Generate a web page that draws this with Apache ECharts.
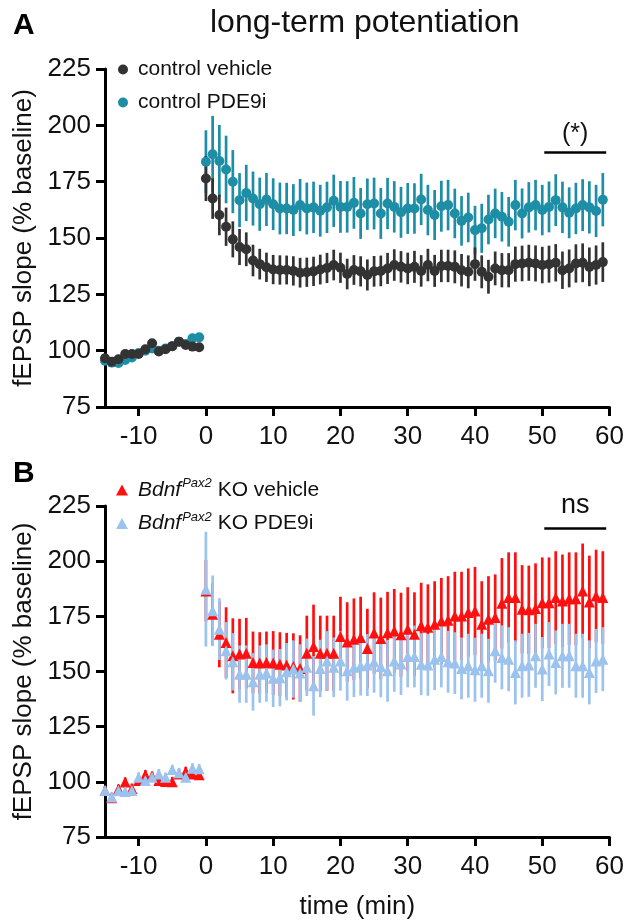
<!DOCTYPE html>
<html><head><meta charset="utf-8">
<script src="https://cdn.jsdelivr.net/npm/echarts@6/dist/echarts.min.js"></script>
<style>html,body{margin:0;padding:0;background:#fff}#c{width:627px;height:921px}</style>
</head><body><div id="c"></div>
<script>
const minutes = [-15,-14,-13,-12,-11,-10,-9,-8,-7,-6,-5,-4,-3,-2,-1,
  0,1,2,3,4,5,6,7,8,9,10,11,12,13,14,15,16,17,18,19,20,21,22,23,24,25,26,27,28,29,
  30,31,32,33,34,35,36,37,38,39,40,41,42,43,44,45,46,47,48,49,50,51,52,53,54,55,56,57,58,59];
const xTickLabels = [-10,0,10,20,30,40,50,60];

// Panel A: control vehicle
const ctrlVehMean = [96.6,95.1,96.2,98.5,98.5,98.5,100.6,103.3,99.6,100.6,102,104,102.5,101.8,101.5,
  176.4,167.5,160.2,155,149.4,146,145,140,138.4,137,
  136,135.8,135.8,135.4,134.6,134.8,135.2,136,136.7,138,
  136.8,134,135.8,135.2,133.6,135.2,135.4,136.5,138,137.2,
  136.5,137.2,135.4,138,135.4,137.6,137.6,137.2,135.7,135,
  138.4,135,132.8,136.5,135.7,135.7,138.4,138.7,139,138.7,
  138,138.4,139,135.7,136.5,138.7,139,137.2,138,139.3];
const ctrlVehSem = [1.5,1.5,1.4,1.6,1.5,1.5,1.6,1.7,1.5,1.6,1.5,1.7,1.6,1.5,1.6,
  10,9,9,8.5,8,8,7.5,7,6.8,6.5,
  6.5,6.5,6.4,6.5,6.6,6.5,6.5,6.6,6.7,6.8,
  6.7,6.8,6.6,6.7,6.9,6.8,6.8,6.9,7,7,
  7,7.1,7,7.2,7.1,7.2,7.2,7.3,7.2,7.3,
  7.4,7.3,7.5,7.5,7.6,7.6,7.8,7.9,8,8,
  8.1,8.2,8.3,8.3,8.4,8.5,8.6,8.6,8.7,8.8];
// Panel A: control PDE9i
const ctrlPdeMean = [95.5,94.7,94.5,95.9,97,99,100,101,100,101,102,104,103,105.5,105.9,
  183.8,187.2,184.2,180.4,175,166.8,170,167.5,165,167.1,
  165,163.1,163.1,162.4,164.6,163.1,163.6,162.1,163.6,166.5,
  163.8,163.8,165.6,160.9,165,165.3,160.9,165.3,163.8,161.4,
  163.1,163.1,167.1,162.4,160.2,164.1,164.6,160.9,157.6,159.1,
  153.5,154.3,158.2,160.9,159.4,157.2,164.6,160.9,163.6,164.6,
  162.4,163.8,166.8,163.6,161.2,163.1,164.6,163.6,162,167];
const ctrlPdeSem = [1.5,1.6,1.5,1.6,1.7,1.6,1.5,1.7,1.6,1.6,1.7,1.6,1.7,1.8,1.8,
  14,17,16,15,14,12,12.5,12,11.8,11.8,
  11.5,11.5,11.4,11.5,11.6,11.5,11.4,11.5,11.4,11.6,
  11.5,11.4,11.5,11.3,11.4,11.5,11.3,11.4,11.4,11.3,
  11.3,11.2,11.4,11.2,11.1,11.3,11.2,11,11,11,
  10.8,10.9,11,11,11,11,11.2,11.1,11.2,11.2,
  11.2,11.3,11.5,11.4,11.3,11.4,11.5,11.6,11.6,11.8];
// Panel B: Bdnf Pax2 KO vehicle
const koVehMean = [96.1,92.8,96.8,99.9,97,100.6,103.2,102.6,100.6,100.2,100,103.6,104.7,103.6,103.2,
  186.5,176,166.9,163.1,157.1,157.9,158.3,154.1,153.8,154.1,
  153.8,153.3,153,152.3,151.4,158.3,161.3,158.3,158.3,158.3,
  165.9,163.4,164.6,165.4,160.4,167.4,165,167.6,168.4,166.7,
  169.2,166.9,170.7,170,171.4,172.9,173.2,175.2,175.2,176.7,
  177.4,171.4,173.7,174.5,180.9,183.5,183.5,178.2,178,178.5,
  181.2,181.2,183.5,182,183,183,186.5,181.5,184.2,183.5];
const koVehSem = [2,2.2,2,2.1,2.2,2,2.1,2,2.1,2,2.2,2,2.1,2,2.1,
  14,14,15,16,17,16,16,14,14,14,
  14.5,14.5,14.5,15,15,17,19,17,17,17,
  18,18,18.5,18.5,18,18.5,18.5,18.5,19,19,
  19,19,19.5,19.5,19.5,19.5,20,20,20,20,
  20,19.5,19.5,19.5,20.5,20.5,20.5,20,20,20.5,
  20.5,20.5,21,21,21,21,21.5,21,21,21];
// Panel B: Bdnf Pax2 KO PDE9i
const koPdeMean = [96.1,93.1,96,95.6,96.1,102.1,100.6,102.1,103.6,102.1,105.6,104.1,102.1,106.2,105.9,
  187.3,177.5,169.2,159.4,154.4,148.8,148.8,145.3,148.8,149.3,
  146.9,147.2,149.9,151.1,149.3,151.9,143.5,151.4,154.8,151.9,
  154.8,150.3,151.9,152.6,152.9,154.4,152.3,150.3,154.8,153.4,
  156.8,156.8,153.3,153,155.6,156.8,154.4,153.8,151.4,152.6,
  150.8,152.6,150.3,159.4,156.4,155.6,149.6,152.6,153,157.1,
  151.1,157.9,154.1,157.1,157.1,152.6,152.6,149.6,154.8,155.6];
const koPdeSem = [2,2.1,2,2.1,2,2.2,2,2.1,2.2,2,2.1,2.2,2,2.2,2.1,
  26,16,14,13,13,13,13,13,13,13,
  13,13,13,13,13,13,13.5,13,13.5,13.5,
  13.5,13.5,13.5,13.5,14,14,14,14,14,14,
  14,14,14,14,14,14,14,14,14,14.5,
  14.5,14.5,14.5,14.5,14.5,14.5,14.5,14.5,14.5,14.5,
  14.5,14.5,14.5,14.5,14.5,14.5,14.5,14.5,14.5,14.5];

const FONT = 'Liberation Sans, Arial, sans-serif';
const cDark = '#333333', cTeal = '#1e8ea6', cRed = '#ff1010', cBlue = '#9cc2ee';

function pts(mean){ return minutes.map((t,i)=>[t, mean[i]]); }
function errs(mean, sem){ return minutes.map((t,i)=>[t, mean[i], sem[i]]); }
function errRender(params, api){
  const x = api.value(0), m = api.value(1), s = api.value(2);
  const a = api.coord([x, m + s]), b = api.coord([x, m - s]);
  return {type:'line', shape:{x1:a[0], y1:a[1], x2:b[0], y2:b[1]},
    style:{stroke: api.visual('color'), lineWidth: 2.7, opacity: api.visual('opacity')}};
}
function errSeries(name, mean, sem, color, idx, opacity){
  return {type:'custom', name: name, xAxisIndex: idx, yAxisIndex: idx, renderItem: errRender,
    itemStyle:{color: color, opacity: opacity || 1}, encode:{x:0, y:[1]}, data: errs(mean, sem), silent:true, z:2};
}
function xAxis(idx, withName){
  return {type:'value', gridIndex: idx, min:-15, max:60,
    axisLine:{onZero:false, lineStyle:{color:'#000', width:3}},
    axisTick:{customValues: xTickLabels, length:9, lineStyle:{color:'#000', width:3}},
    axisLabel:{customValues: xTickLabels, color:'#111', fontSize:26, fontFamily:FONT, margin:17},
    splitLine:{show:false},
    name: withName ? 'time (min)' : '', nameLocation:'middle', nameGap:57,
    nameTextStyle:{color:'#111', fontSize:26, fontFamily:FONT}};
}
function yAxis(idx){
  return {type:'value', gridIndex: idx, min:75, max:225, interval:25,
    axisLine:{show:true, onZero:false, lineStyle:{color:'#000', width:3}},
    axisTick:{show:true, length:9, lineStyle:{color:'#000', width:3}},
    axisLabel:{color:'#111', fontSize:26, fontFamily:FONT, margin:14},
    splitLine:{show:false},
    name:'fEPSP slope (% baseline)', nameLocation:'middle', nameGap:64,
    nameTextStyle:{color:'#111', fontSize:26, fontFamily:FONT}};
}
const legendRich = {
  i:{fontStyle:'italic', fontSize:21, fontFamily:FONT, color:'#111', lineHeight:26},
  s:{fontStyle:'italic', fontSize:13, fontFamily:FONT, color:'#111', verticalAlign:'top', lineHeight:26, padding:[0,0,10,1]},
  n:{fontSize:21, fontFamily:FONT, color:'#111', lineHeight:26}
};

const option = {
  animation:false,
  backgroundColor:'#fff',
  title:[
    {text:'A', left:8, top:6, textStyle:{fontSize:30, fontWeight:'bold', fontFamily:FONT, color:'#000'}},
    {text:'long-term potentiation', left:205, top:2, textStyle:{fontSize:32, fontWeight:'normal', fontFamily:FONT, color:'#111'}},
    {text:'B', left:8, top:454, textStyle:{fontSize:30, fontWeight:'bold', fontFamily:FONT, color:'#000'}}
  ],
  legend:[
    {orient:'vertical', left:113, top:52, itemWidth:10, itemHeight:10, itemGap:8,
      data:[{name:'control vehicle', icon:'circle'}, {name:'control PDE9i', icon:'circle'}],
      textStyle:{fontSize:21, fontFamily:FONT, color:'#111', lineHeight:25, padding:[0,0,0,5]}},
    {orient:'vertical', left:111, top:472, itemWidth:12, itemHeight:11, itemGap:10,
      data:[{name:'Bdnf Pax2 KO vehicle', icon:'triangle'}, {name:'Bdnf Pax2 KO PDE9i', icon:'triangle'}],
      formatter: function(name){ return '{i|Bdnf}{s|Pax2}{n| ' + name.replace('Bdnf Pax2 ','') + '}'; },
      textStyle:{fontSize:21, fontFamily:FONT, color:'#111', rich: legendRich, padding:[0,0,0,5]}}
  ],
  grid:[
    {left:105, right:15, top:69, height:338},
    {left:105, right:15, top:506, height:332}
  ],
  xAxis:[xAxis(0,false), xAxis(1,true)],
  yAxis:[yAxis(0), yAxis(1)],
  series:[
    errSeries('err PDE9i', ctrlPdeMean, ctrlPdeSem, cTeal, 0),
    errSeries('err vehicle', ctrlVehMean, ctrlVehSem, cDark, 0),
    {type:'scatter', name:'control PDE9i', xAxisIndex:0, yAxisIndex:0, symbol:'circle', symbolSize:10,
      itemStyle:{color:cTeal, opacity:1}, data: pts(ctrlPdeMean), z:3,
      markLine:{silent:true, symbol:'none', lineStyle:{color:'#000', width:2.5, type:'solid'},
        label:{show:true, position:'middle', formatter:'(*)', fontSize:25, fontFamily:FONT, color:'#111', distance:6},
        data:[[{coord:[50.3,188]},{coord:[59.5,188]}]]}},
    {type:'scatter', name:'control vehicle', xAxisIndex:0, yAxisIndex:0, symbol:'circle', symbolSize:10,
      itemStyle:{color:cDark, opacity:1}, data: pts(ctrlVehMean), z:4},
    errSeries('err KO vehicle', koVehMean, koVehSem, cRed, 1),
    errSeries('err KO PDE9i', koPdeMean, koPdeSem, cBlue, 1, 0.85),
    {type:'scatter', name:'Bdnf Pax2 KO vehicle', xAxisIndex:1, yAxisIndex:1, symbol:'triangle', symbolSize:11,
      itemStyle:{color:cRed, opacity:1}, data: pts(koVehMean), z:3,
      markLine:{silent:true, symbol:'none', lineStyle:{color:'#000', width:2.5, type:'solid'},
        label:{show:true, position:'middle', formatter:'ns', fontSize:27, fontFamily:FONT, color:'#111', distance:9},
        data:[[{coord:[50.3,215]},{coord:[59.5,215]}]]}},
    {type:'scatter', name:'Bdnf Pax2 KO PDE9i', xAxisIndex:1, yAxisIndex:1, symbol:'triangle', symbolSize:11,
      itemStyle:{color:cBlue, opacity:1}, data: pts(koPdeMean), z:4}
  ]
};
const chart = echarts.init(document.getElementById('c'), null, {renderer:'canvas'});
chart.setOption(option);
</script></body></html>
